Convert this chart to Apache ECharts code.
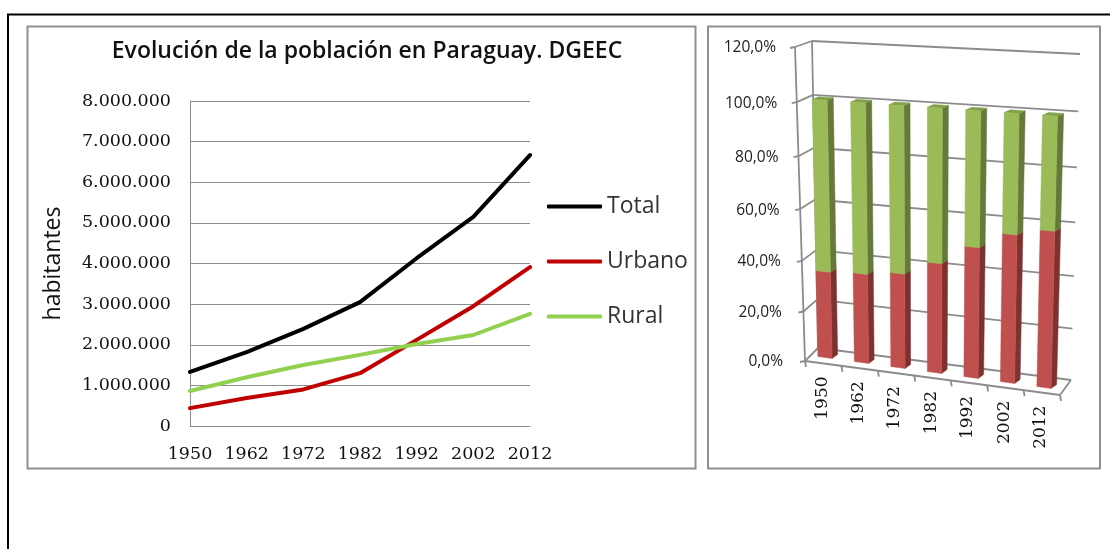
<!DOCTYPE html>
<html>
<head>
<meta charset="utf-8">
<title>Evolución de la población en Paraguay</title>
<style>
html, body { margin: 0; padding: 0; background: #fff; }
#main { width: 1110px; height: 549px; }
</style>
<script src="https://cdn.jsdelivr.net/npm/echarts@6/dist/echarts.min.js"></script>
</head>
<body>
<div id="main"></div>
<script>
// datos
var years = ['1950', '1962', '1972', '1982', '1992', '2002', '2012'];
var total = [1330000, 1820000, 2390000, 3050000, 4130000, 5150000, 6670000];
var urbano = [440000, 690000, 900000, 1300000, 2120000, 2950000, 3910000];
var rural = [860000, 1200000, 1500000, 1750000, 2020000, 2240000, 2760000];
var yLabels = ['0', '1.000.000', '2.000.000', '3.000.000', '4.000.000', '5.000.000', '6.000.000', '7.000.000', '8.000.000'];

// porcentajes del grafico de la derecha
var pctUrbano = [33.4, 34.2, 35.9, 41.4, 48.9, 55, 57.7];
var pctRural = [66.6, 65.8, 64.1, 58.6, 51.1, 45, 42.3];
var pctTicks = [0, 20, 40, 60, 80, 100, 120];
var pctLabels = ['0,0%', '20,0%', '40,0%', '60,0%', '80,0%', '100,0%', '120,0%'];

var serif = '"DejaVu Serif", serif';
var sans = '"Open Sans", "Noto Sans", sans-serif';
var gray = '#8c8c8c';

// rejilla oculta del grafico 3D, sus pixeles se proyectan con warp()
var g3 = { left: 100, top: 100, width: 280, height: 300 };
var planes = {
    front: { a: [805, 361], b: [795, 47], c: [1060, 395], d: [1064, 62], bend: 0.065 },
    back: { a: [818, 348], b: [812, 41], c: [1071, 380], d: [1080, 54], bend: 0.065 },
    bars: { a: [806.75, 355], b: [799.25, 47.4], c: [1062.25, 390], d: [1070.6, 62.4], bend: 0 }
};

function lerp(p, q, t) {
    return [p[0] + (q[0] - p[0]) * t, p[1] + (q[1] - p[1]) * t];
}

function warp(pt, plane) {
    var s = (pt[0] - g3.left) / g3.width;
    var t = (g3.top + g3.height - pt[1]) / g3.height;
    // perspectiva: las divisiones se acercan hacia abajo
    t = t - plane.bend * t * (1 - t);
    return lerp(lerp(plane.a, plane.b, t), lerp(plane.c, plane.d, t), s);
}

// cara trasera de la barra, desplazada respecto a la frontal
function barBack(pt) {
    var p = warp(pt, planes.bars);
    var t = (g3.top + g3.height - pt[1]) / g3.height;
    var off = lerp([5.5, -4], [6.2, -2.5], t);
    return [p[0] + off[0], p[1] + off[1]];
}

function line3d(p, q, color, w) {
    return {
        type: 'line',
        shape: { x1: p[0], y1: p[1], x2: q[0], y2: q[1] },
        style: { stroke: color, lineWidth: w || 1.8 }
    };
}

function poly(points, color) {
    return { type: 'polygon', shape: { points: points }, style: { fill: color, stroke: color, lineWidth: 0.5 } };
}

// paredes, lineas de division y etiquetas del eje de valores
function renderWalls(params, api) {
    var val = api.value(0);
    var yPx = api.coord([0, val])[1];
    var left = [g3.left, yPx];
    var right = [g3.left + g3.width, yPx];
    var fl = warp(left, planes.front), bl = warp(left, planes.back), br = warp(right, planes.back);
    var children = [
        line3d(fl, bl, gray),
        line3d(bl, br, gray),
        line3d(fl, [fl[0] - 5, fl[1] + 1], gray),
        {
            type: 'text',
            style: {
                x: fl[0] - 19 - 3 * (1 - val / 120), y: fl[1] + 1,
                text: pctLabels[params.dataIndex],
                font: '15.5px ' + sans, fill: '#222', align: 'right', verticalAlign: 'middle'
            }
        }
    ];
    if (val === 0) {
        var fr = warp(right, planes.front);
        var top = [g3.left, api.coord([0, 120])[1]];
        children.push(
            line3d(fl, fr, gray),
            line3d(fr, br, gray),
            line3d(fl, warp(top, planes.front), gray),
            line3d(bl, warp(top, planes.back), gray),
            line3d(fl, [fl[0] + 1, fl[1] + 6], gray)
        );
    }
    return { type: 'group', children: children };
}

// ticks y etiquetas del eje de categorias, sobre el suelo
function renderYears(params, api) {
    var i = api.value(0);
    var band = api.size([1, 0])[0];
    var c = api.coord([i, 0]);
    var p = warp([c[0] + band / 2, c[1]], planes.front);
    var mid = warp(c, planes.front);
    return {
        type: 'group',
        children: [
            line3d(p, [p[0] + 1, p[1] + 6], gray),
            {
                type: 'text',
                x: mid[0] - 1,
                y: mid[1] + 13,
                rotation: Math.PI / 2,
                style: {
                    x: 0, y: 0, text: years[i],
                    font: '17px ' + serif, fill: '#111', align: 'right', verticalAlign: 'middle'
                }
            }
        ]
    };
}

function renderBar(colors) {
    return function (params, api) {
        var i = api.value(0);
        var band = api.size([1, 0])[0];
        var w = band * 0.39;
        var b0 = api.coord([i, api.value(1)]);
        var b1 = api.coord([i, api.value(2)]);
        var xl = b0[0] - w / 2, xr = b0[0] + w / 2;
        var f1 = warp([xl, b0[1]], planes.bars), f2 = warp([xr, b0[1]], planes.bars);
        var f3 = warp([xr, b1[1]], planes.bars), f4 = warp([xl, b1[1]], planes.bars);
        var s2 = barBack([xr, b0[1]]), s3 = barBack([xr, b1[1]]), s4 = barBack([xl, b1[1]]);
        return {
            type: 'group',
            children: [
                poly([f2, s2, s3, f3], colors.side),
                poly([f4, f3, s3, s4], colors.top),
                poly([f1, f2, f3, f4], colors.face)
            ]
        };
    };
}

var stackData = years.map(function (y, i) {
    return { urb: [i, 0, pctUrbano[i]], rur: [i, pctUrbano[i], pctUrbano[i] + pctRural[i]] };
});

var myChart = echarts.init(document.getElementById('main'));

var option = {
    animation: false,
    backgroundColor: '#fff',
    textStyle: { fontFamily: serif },
    title: {
        text: 'Evolución de la población en Paraguay. DGEEC',
        left: 362,
        top: 35,
        textAlign: 'center',
        textStyle: { fontFamily: sans, fontSize: 23, fontWeight: 600, color: '#111' }
    },
    legend: {
        orient: 'vertical',
        left: 547,
        top: 195,
        padding: 0,
        icon: 'roundRect',
        itemWidth: 55,
        itemHeight: 4,
        itemGap: 32,
        data: ['Total', 'Urbano', 'Rural'],
        textStyle: { fontFamily: sans, fontSize: 23, color: '#333' }
    },
    graphic: [
        { type: 'polyline', shape: { points: [[8, 549], [8, 14.5], [1110, 14.5]] }, style: { fill: 'none', stroke: '#000', lineWidth: 2 }, silent: true, z: -1 },
        { type: 'rect', shape: { x: 27.5, y: 26.5, width: 668, height: 442 }, style: { fill: '#fff', stroke: '#8f8f8f', lineWidth: 2 }, silent: true, z: -1 },
        { type: 'rect', shape: { x: 708, y: 26.5, width: 392, height: 442 }, style: { fill: '#fff', stroke: '#8f8f8f', lineWidth: 2 }, silent: true, z: -1 }
    ],
    grid: [
        { left: 190, top: 101, width: 340, height: 325 },
        g3
    ],
    xAxis: [
        {
            gridIndex: 0,
            type: 'category',
            data: years,
            boundaryGap: false,
            axisLine: { lineStyle: { color: gray, width: 1 } },
            axisTick: { show: false },
            axisLabel: { margin: 19.5, fontSize: 17.5, color: '#111', fontFamily: serif, interval: 0 }
        },
        { gridIndex: 1, type: 'category', data: years, show: false }
    ],
    yAxis: [
        {
            gridIndex: 0,
            type: 'value',
            min: 0,
            max: 8000000,
            interval: 1000000,
            name: 'habitantes',
            nameLocation: 'middle',
            nameGap: 125,
            nameTextStyle: { fontFamily: sans, fontSize: 23, color: '#111' },
            axisLine: { show: true, lineStyle: { color: gray, width: 1 } },
            axisTick: { show: false },
            axisLabel: {
                margin: 19, fontSize: 17.5, color: '#111', fontFamily: serif,
                formatter: function (v) { return yLabels[Math.round(v / 1000000)]; }
            },
            splitLine: { lineStyle: { color: gray, width: 1 } }
        },
        { gridIndex: 1, type: 'value', min: 0, max: 120, interval: 20, show: false, splitLine: { show: false } }
    ],
    series: [
        { name: 'Total', type: 'line', xAxisIndex: 0, yAxisIndex: 0, data: total, symbol: 'none', lineStyle: { color: '#000', width: 4, cap: 'round' }, itemStyle: { color: '#000' } },
        { name: 'Urbano', type: 'line', xAxisIndex: 0, yAxisIndex: 0, data: urbano, symbol: 'none', lineStyle: { color: '#c00000', width: 4, cap: 'round' }, itemStyle: { color: '#c00000' } },
        { name: 'Rural', type: 'line', xAxisIndex: 0, yAxisIndex: 0, data: rural, symbol: 'none', lineStyle: { color: '#92d050', width: 4, cap: 'round' }, itemStyle: { color: '#92d050' } },
        {
            name: 'paredes', type: 'custom', xAxisIndex: 1, yAxisIndex: 1, clip: false, silent: true, z: 1,
            data: pctTicks.map(function (v) { return [v]; }),
            encode: { y: 0 },
            renderItem: renderWalls
        },
        {
            name: 'anos', type: 'custom', xAxisIndex: 1, yAxisIndex: 1, clip: false, silent: true, z: 1,
            data: years.map(function (y, i) { return [i]; }),
            encode: { x: 0 },
            renderItem: renderYears
        },
        {
            name: 'pct urbano', type: 'custom', xAxisIndex: 1, yAxisIndex: 1, clip: false, silent: true, z: 2,
            data: stackData.map(function (d) { return d.urb; }),
            encode: { x: 0, y: [1, 2] },
            renderItem: renderBar({ face: '#c0504d', side: '#7d3230', top: '#c0504d' })
        },
        {
            name: 'pct rural', type: 'custom', xAxisIndex: 1, yAxisIndex: 1, clip: false, silent: true, z: 2,
            data: stackData.map(function (d) { return d.rur; }),
            encode: { x: 0, y: [1, 2] },
            renderItem: renderBar({ face: '#9bbb59', side: '#66793a', top: '#83a04a' })
        }
    ]
};

myChart.setOption(option);
</script>
</body>
</html>
